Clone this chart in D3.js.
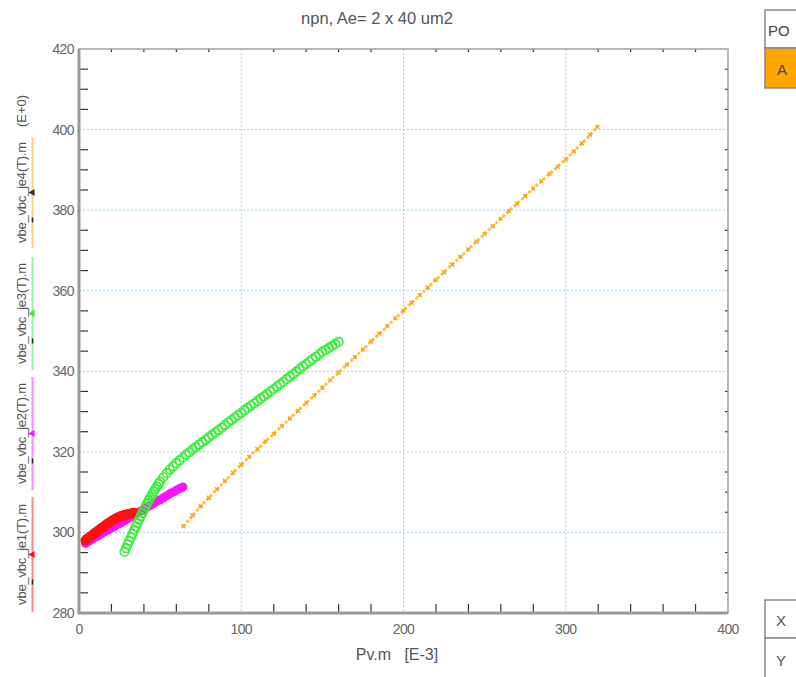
<!DOCTYPE html>
<html>
<head>
<meta charset="utf-8">
<script src="https://cdn.jsdelivr.net/npm/d3@7"></script>
<style>
  body { margin: 0; background: #fff; }
  text { font-family: "Liberation Sans", Arial, sans-serif; }
</style>
</head>
<body>
<svg width="796" height="677"></svg>
<script>
// series data (Pv.m in E-3, vbe_vbc in E+0)
var je1X = [4,5,6,7,8,9,10,11,12,13,14,15,16,17,18,19,20,21,22,23,24,25,26,27,28,29,30,31,32,33,34];
var je1Y = [298.0,298.4,298.7,299.0,299.3,299.6,299.9,300.2,300.5,300.8,301.1,301.4,301.7,302.0,302.3,302.5,302.8,303.0,303.3,303.5,303.7,303.9,304.1,304.2,304.3,304.4,304.5,304.6,304.7,304.8,304.9];

var je2X = [4,6,8,10,12,14,16,18,20,22,24,26,28,30,32,34,36,38,40,42,44,46,48,50,52,54,56,58,60,62,64];
var je2Y = [297.3,297.8,298.3,298.8,299.2,299.7,300.2,300.6,301.1,301.5,302.0,302.4,302.9,303.4,303.8,304.3,304.8,305.3,305.8,306.3,306.7,307.2,307.7,308.1,308.6,309.1,309.6,310.0,310.5,310.9,311.3];

var je3X = [28,29,30,31,32,33,34,35,36,37,38,39,40,41,42,43,44,45,46,47,48,49,50,52,54,56,58,60,62,64,66,68,70,72,74,76,78,80,82,84,86,88,90,92,94,96,98,100,102,104,106,108,110,112,114,116,118,120,122,124,126,128,130,132,134,136,138,140,142,144,146,148,150,152,154,156,158,160];
var je3Y = [295.2,296.1,297.0,297.9,298.8,299.7,300.6,301.5,302.3,303.2,304.0,304.8,305.6,306.4,307.2,308.0,308.7,309.4,310.1,310.8,311.4,312.0,312.6,313.7,314.7,315.6,316.4,317.2,317.9,318.6,319.3,319.9,320.6,321.2,321.8,322.4,323.0,323.6,324.2,324.8,325.4,326.0,326.7,327.3,327.9,328.5,329.1,329.7,330.3,330.9,331.5,332.0,332.6,333.2,333.8,334.4,335.0,335.6,336.2,336.8,337.4,338.1,338.7,339.3,339.9,340.6,341.2,341.8,342.4,343.0,343.6,344.2,344.8,345.3,345.8,346.3,346.8,347.3];

var je4X = [64.3,70,75,80,85,90,95,100,105,110,115,120,125,130,135,140,145,150,155,160,165,170,175,180,185,190,195,200,205,210,215,220,225,230,235,240,245,250,255,260,265,270,275,280,285,290,295,300,305,310,315,319.5];
var je4Y = [301.5,304.2,306.5,308.6,310.7,312.8,314.8,316.8,318.8,320.7,322.6,324.5,326.4,328.3,330.2,332.1,334.0,335.9,337.8,339.7,341.6,343.5,345.4,347.4,349.3,351.2,353.2,355.1,357.0,358.9,360.8,362.7,364.6,366.5,368.4,370.3,372.2,374.1,376.0,377.9,379.8,381.6,383.5,385.4,387.2,389.0,390.8,392.6,394.6,396.6,398.7,400.7];

var xTicks = [0, 100, 200, 300, 400];
var yTicks = [280, 300, 320, 340, 360, 380, 400, 420];
var yLabels = ['vbe_vbc_je1(T).m', 'vbe_vbc_je2(T).m', 'vbe_vbc_je3(T).m', 'vbe_vbc_je4(T).m'];
var seriesColors = ['#ff1010', '#ff10ff', '#33f033', '#ffa500'];

var svg = d3.select('svg'),
	plotL = 79, plotR = 728, plotT = 49, plotB = 613;

var x = d3.scaleLinear().domain([0, 400]).range([plotL, plotR]);
var y = d3.scaleLinear().domain([280, 420]).range([plotB, plotT]);

function zip(xs, ys) {
	return xs.map(function(v, i) { return {x: v, y: ys[i]}; });
}

// dotted grid at the major ticks
svg.append('g').selectAll('line')
	.data(xTicks.slice(1, -1)).enter().append('line')
	.attr('x1', x).attr('x2', x).attr('y1', plotT).attr('y2', plotB)
	.attr('stroke', '#9fd4f2').attr('stroke-width', 1).attr('stroke-dasharray', '2,2');
svg.append('g').selectAll('line')
	.data(yTicks.slice(1, -1)).enter().append('line')
	.attr('y1', y).attr('y2', y).attr('x1', plotL).attr('x2', plotR)
	.attr('stroke', '#9fd4f2').attr('stroke-width', 1).attr('stroke-dasharray', '2,2');

// minor ticks: every 20 on x, every 5 on y (majors are left to the grid)
var xMinor = d3.range(20, 400, 20).filter(function(v) { return v % 100 !== 0; });
var yMinor = d3.range(285, 420, 5).filter(function(v) { return v % 20 !== 0; });

var ticks = svg.append('g').attr('stroke', '#333').attr('stroke-width', 1.2);
ticks.append('g').selectAll('line').data(xMinor).enter().append('line')
	.attr('x1', x).attr('x2', x).attr('y1', plotB).attr('y2', plotB - 9);
ticks.append('g').selectAll('line').data(xMinor).enter().append('line')
	.attr('x1', x).attr('x2', x).attr('y1', plotT).attr('y2', plotT + 3);
ticks.append('g').selectAll('line').data(yMinor).enter().append('line')
	.attr('y1', y).attr('y2', y).attr('x1', plotL).attr('x2', plotL + 9);
ticks.append('g').selectAll('line').data(yMinor).enter().append('line')
	.attr('y1', y).attr('y2', y).attr('x1', plotR).attr('x2', plotR - 3);

// frame
svg.append('rect')
	.attr('x', plotL).attr('y', plotT).attr('width', plotR - plotL).attr('height', plotB - plotT)
	.attr('fill', 'none').attr('stroke', '#a0a0a0').attr('stroke-width', 1.5);
svg.append('path')
	.attr('d', 'M' + plotL + ',' + plotT + 'V' + plotB + 'H' + plotR)
	.attr('fill', 'none').attr('stroke', '#999').attr('stroke-width', 3);

// tick labels
svg.append('g').selectAll('text').data(xTicks).enter().append('text')
	.attr('x', x).attr('y', 634)
	.attr('text-anchor', 'middle').attr('font-size', 14).attr('fill', '#666')
	.attr('letter-spacing', -0.6)
	.text(function(d) { return d; });
svg.append('g').selectAll('text').data(yTicks).enter().append('text')
	.attr('x', 74).attr('y', function(d) { return y(d) + 5; })
	.attr('text-anchor', 'end').attr('font-size', 14).attr('fill', '#666')
	.attr('letter-spacing', -0.6)
	.text(function(d) { return d; });

// title and axis labels
svg.append('text').attr('x', 377).attr('y', 24).attr('text-anchor', 'middle')
	.attr('font-size', 16.5).attr('fill', '#555').text('npn, Ae= 2 x 40 um2');
svg.append('text').attr('x', 397).attr('y', 660).attr('text-anchor', 'middle')
	.attr('font-size', 16).attr('fill', '#555').attr('xml:space', 'preserve').text('Pv.m   [E-3]');

// y label: one segment per series, with a coloured bar beside it
var segs = [[497, 612], [377, 490], [257, 370], [137, 248]];
var ylab = svg.append('g');
segs.forEach(function(s, i) {
	var cy = (s[0] + s[1]) / 2;
	ylab.append('line').attr('x1', 32.5).attr('x2', 32.5).attr('y1', s[0]).attr('y2', s[1])
		.attr('stroke', seriesColors[i]).attr('stroke-width', 2).attr('opacity', 0.5);
	ylab.append('line').attr('x1', 32.5).attr('x2', 32.5).attr('y1', cy + 25).attr('y2', cy + 30)
		.attr('stroke', '#222').attr('stroke-width', 1.5);
	ylab.append('path').attr('d', d3.symbol(d3.symbolTriangle, 22)())
		.attr('transform', 'translate(32.5,' + cy + ') rotate(-90)')
		.attr('fill', i === 3 ? '#333' : seriesColors[i]);
	ylab.append('text').attr('transform', 'translate(26,' + cy + ') rotate(-90)')
		.attr('text-anchor', 'middle').attr('font-size', 13).attr('fill', '#555')
		.attr('letter-spacing', -0.2)
		.text(yLabels[i]);
});
ylab.append('text').attr('transform', 'translate(26,111) rotate(-90)')
	.attr('text-anchor', 'middle').attr('font-size', 13).attr('fill', '#555').text('(E+0)');

// plot area clip
svg.append('clipPath').attr('id', 'clip').append('rect')
	.attr('x', plotL).attr('y', plotT).attr('width', plotR - plotL).attr('height', plotB - plotT);
var plot = svg.append('g').attr('clip-path', 'url(#clip)');

// je2 magenta filled dots
plot.append('g').selectAll('circle').data(zip(je2X, je2Y)).enter().append('circle')
	.attr('cx', function(d) { return x(d.x); }).attr('cy', function(d) { return y(d.y); })
	.attr('r', 4.5).attr('fill', seriesColors[1]);

// je1 red filled dots
plot.append('g').selectAll('circle').data(zip(je1X, je1Y)).enter().append('circle')
	.attr('cx', function(d) { return x(d.x); }).attr('cy', function(d) { return y(d.y); })
	.attr('r', 5).attr('fill', seriesColors[0]);

// je3 green hollow circles
plot.append('g').selectAll('circle').data(zip(je3X, je3Y)).enter().append('circle')
	.attr('cx', function(d) { return x(d.x); }).attr('cy', function(d) { return y(d.y); })
	.attr('r', 4.3).attr('fill', 'none').attr('stroke', seriesColors[2]).attr('stroke-width', 1.6);

// je4 orange crosses on a faint dotted line
var je4 = zip(je4X, je4Y);
plot.append('path').datum(je4)
	.attr('d', d3.line().x(function(d) { return x(d.x); }).y(function(d) { return y(d.y); }))
	.attr('fill', 'none').attr('stroke', '#ffc04d').attr('stroke-width', 3).attr('stroke-dasharray', '3,2');
plot.append('g').selectAll('path').data(je4).enter().append('path')
	.attr('d', d3.symbol(d3.symbolX, 12)())
	.attr('transform', function(d) { return 'translate(' + x(d.x) + ',' + y(d.y) + ')'; })
	.attr('stroke', '#ffa000').attr('stroke-width', 1.3).attr('fill', 'none');

// legend boxes cut off at the right edge
var leg = svg.append('g').attr('stroke', '#888').attr('stroke-width', 1.5);
leg.append('rect').attr('x', 765).attr('y', 10).attr('width', 40).attr('height', 38).attr('fill', '#fff');
leg.append('rect').attr('x', 765).attr('y', 48).attr('width', 40).attr('height', 40).attr('fill', '#ffa500');
leg.append('rect').attr('x', 765).attr('y', 600).attr('width', 40).attr('height', 38).attr('fill', '#fff');
leg.append('rect').attr('x', 765).attr('y', 638).attr('width', 40).attr('height', 45).attr('fill', '#fff');
svg.append('text').attr('x', 768).attr('y', 36).attr('font-size', 15).attr('fill', '#444').text('PO');
svg.append('text').attr('x', 777).attr('y', 75).attr('font-size', 15).attr('fill', '#444').text('A');
svg.append('text').attr('x', 776).attr('y', 626).attr('font-size', 15).attr('fill', '#555').text('X');
svg.append('text').attr('x', 776).attr('y', 666).attr('font-size', 15).attr('fill', '#555').text('Y');
</script>
</body>
</html>
